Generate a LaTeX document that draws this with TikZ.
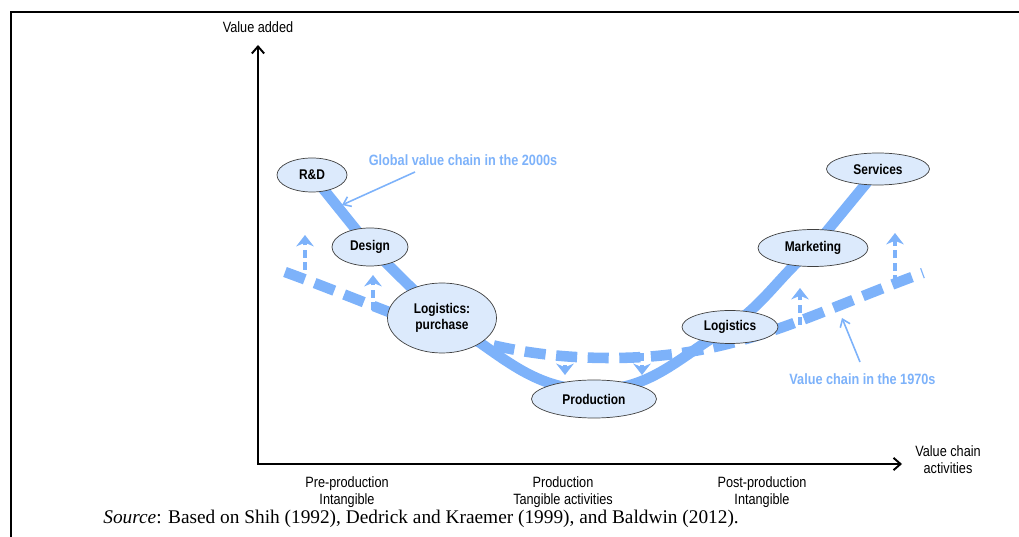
\documentclass[tikz,border=0pt]{standalone}
\usepackage{fontspec}
\setmainfont{Liberation Serif}
\newfontfamily\narrowsans[FakeStretch=0.85]{Liberation Sans}
\usetikzlibrary{shapes.geometric,arrows.meta,backgrounds}
\definecolor{chainblue}{RGB}{125,178,250}
\definecolor{stagefill}{RGB}{220,234,252}

\begin{document}
\begin{tikzpicture}[
  stage/.style={shape=ellipse,draw=black!75,fill=stagefill,inner sep=0pt,align=center,
    font=\narrowsans\bfseries\fontsize{8}{9.5}\selectfont},
  axislabel/.style={align=center,font=\narrowsans\fontsize{8.5}{9.5}\selectfont},
  chainlabel/.style={text=chainblue,font=\narrowsans\bfseries\fontsize{8.5}{10}\selectfont},
  axis/.style={line width=1.1pt,{Straight Barb[length=4pt,width=7pt]}-{Straight Barb[length=4pt,width=7pt]}},
  chain2000/.style={draw=chainblue,line width=6pt},
  chain1970/.style={draw=chainblue,line width=6pt,dash pattern=on 12pt off 6pt},
  shiftarrow/.style={draw=chainblue,line width=2.3pt,dash pattern=on 4.5pt off 2.5pt,
    -{Stealth[length=6.5pt,width=10pt]}},
  pointer/.style={draw=chainblue,line width=0.9pt,-{Straight Barb[length=4pt,width=6pt]}}
]
  \useasboundingbox (0,0) rectangle (20.38,10.74);
  \draw[line width=1.1pt] (0.22,0) -- (0.22,10.50) -- (20.38,10.50);

  % axes
  \coordinate (O) at (5.16,1.46);
  \coordinate (ytip) at (5.16,9.84);
  \coordinate (xtip) at (18.04,1.46);
  \draw[axis] (ytip) -- (O) -- (xtip);
  \node[axislabel] (yname) at (5.16,10.2) {Value added};
  \node[axislabel] (xname) at (18.96,1.54) {Value chain\\activities};
  \node[axislabel] (pre) at (6.94,0.9) {Pre-production\\Intangible};
  \node[axislabel] (mid) at (11.26,0.9) {Production\\Tangible activities};
  \node[axislabel] (post) at (15.24,0.9) {Post-production\\Intangible};
  \node[anchor=base west,inner sep=0pt,font=\fontsize{11}{13}\selectfont] (source) at (2.06,0.26)
    {\textit{Source}: Based on Shih (1992), Dedrick and Kraemer (1999), and Baldwin (2012).};

  % stages
  \node[stage,minimum width=1.40cm,minimum height=0.68cm] (rd) at (6.24,7.24) {R\&D};
  \node[stage,minimum width=1.52cm,minimum height=0.76cm] (design) at (7.40,5.80) {Design};
  \node[stage,minimum width=2.18cm,minimum height=1.40cm] (logp) at (8.84,4.38) {Logistics:\\purchase};
  \node[stage,minimum width=2.50cm,minimum height=0.76cm] (prod) at (11.88,2.76) {Production};
  \node[stage,minimum width=1.92cm,minimum height=0.66cm] (logr) at (14.60,4.20) {Logistics};
  \node[stage,minimum width=2.20cm,minimum height=0.74cm] (mkt) at (16.26,5.78) {Marketing};
  \node[stage,minimum width=2.06cm,minimum height=0.64cm] (serv) at (17.56,7.36) {Services};

  % chain labels
  \node[chainlabel] (gvc) at (9.26,7.54) {Global value chain in the 2000s};
  \node[chainlabel] (vc70) at (17.25,3.16) {Value chain in the 1970s};
  \coordinate (gvcfrom) at (8.30,7.30);
  \coordinate (gvcto) at (6.84,6.64);
  \coordinate (vcfrom) at (17.20,3.50);
  \coordinate (vcto) at (16.84,4.38);
  \draw[pointer] (gvcfrom) -- (gvcto);
  \draw[pointer] (vcfrom) -- (vcto);

  \begin{pgfonlayer}{background}
    % 2000s curve
    \draw[chain2000] (rd.center) -- (design.center) -- (logp.center)
      to[out=-30,in=180] ([yshift=0.18cm]prod.center)
      to[out=0,in=-150] (logr.center)
      to[out=35,in=-140] (mkt.center) -- (serv.center);
    % 1970s curve
    \coordinate (c70west) at (5.70,5.30);
    \coordinate (c70low) at (12.20,3.58);
    \coordinate (c70east) at (18.46,5.28);
    \draw[chain1970] (c70west) to[out=-20,in=180] (c70low) to[out=0,in=-160] (c70east);
    % shifts
    \coordinate (s1a) at (6.10,5.34);   \coordinate (s1b) at (6.10,6.04);
    \coordinate (s2a) at (7.46,4.54);   \coordinate (s2b) at (7.46,5.24);
    \coordinate (s3a) at (11.30,3.68);  \coordinate (s3b) at (11.30,3.24);
    \coordinate (s4a) at (12.84,3.68);  \coordinate (s4b) at (12.84,3.24);
    \coordinate (s5a) at (16.00,4.24);  \coordinate (s5b) at (16.00,4.98);
    \coordinate (s6a) at (17.90,5.08);  \coordinate (s6b) at (17.90,6.08);
    \draw[shiftarrow] (s1a) -- (s1b);
    \draw[shiftarrow] (s2a) -- (s2b);
    \draw[shiftarrow] (s3a) -- (s3b);
    \draw[shiftarrow] (s4a) -- (s4b);
    \draw[shiftarrow] (s5a) -- (s5b);
    \draw[shiftarrow] (s6a) -- (s6b);
  \end{pgfonlayer}
\end{tikzpicture}
\end{document}
